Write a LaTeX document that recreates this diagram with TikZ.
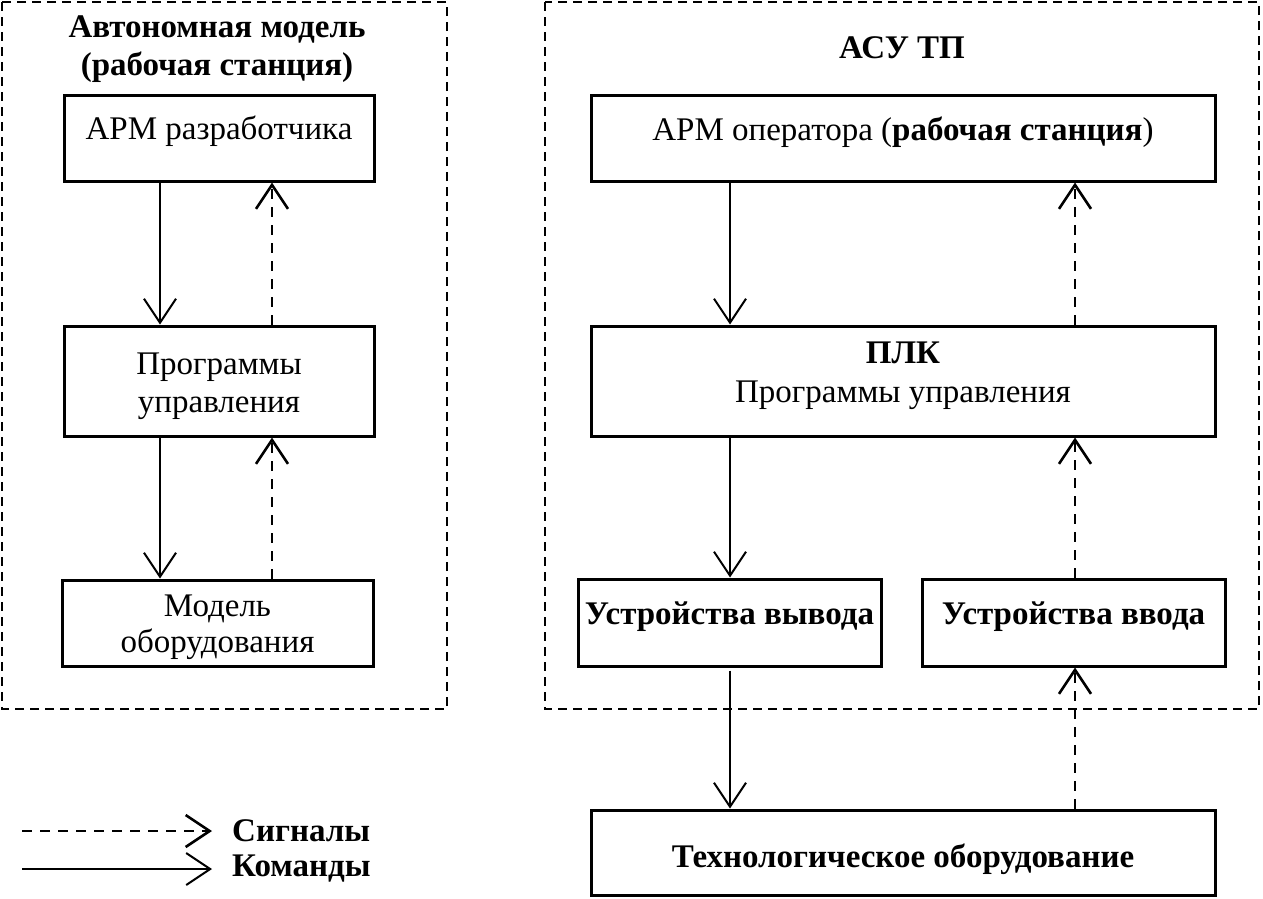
\documentclass[tikz,border=0pt]{standalone}
\usepackage{fontspec}
\setmainfont{Liberation Serif}
\usetikzlibrary{arrows.meta}
\begin{document}
\begin{tikzpicture}[x=1pt,y=-1pt,
 box/.style={draw,line width=3pt,inner sep=0pt},
 txt/.style={inner sep=0pt,anchor=base,font=\fontsize{33}{40}\selectfont},
 btxt/.style={txt,font=\fontsize{33}{40}\selectfont\bfseries},
 grp/.style={draw,line width=2.5pt,dash pattern=on 9pt off 6pt},
 cmd/.style={line width=2pt,-{Straight Barb[length=24pt,width=32pt,line width=2pt]}},
 sig/.style={line width=2.6pt,dash pattern=on 10pt off 8pt,-{Straight Barb[length=24pt,width=32pt,line width=2.6pt]}}]
\useasboundingbox (0,0) rectangle (1263,898);
% groups
\draw[grp] (2,2) rectangle (447,709);
\draw[grp] (545,2) rectangle (1259,709);
\node[btxt] (tl1) at (217,37) {Автономная модель};
\node[btxt] (tl2) at (217,75) {(рабочая станция)};
\node[btxt] (tr) at (902,58) {АСУ ТП};
% left boxes
\node[box,minimum width=310pt,minimum height=86pt] (b1) at (219,138) {};
\node[box,minimum width=310pt,minimum height=110pt] (b2) at (219,381) {};
\node[box,minimum width=311pt,minimum height=86pt] (b3) at (217.5,623) {};
\node[txt] (b1t) at (219,139) {АРМ разработчика};
\node[txt] (b2t1) at (219,374) {Программы};
\node[txt] (b2t2) at (219,412) {управления};
\node[txt] (b3t1) at (217.5,616) {Модель};
\node[txt] (b3t2) at (217.5,652) {оборудования};
% right boxes
\node[box,minimum width=624pt,minimum height=86pt] (r1) at (903,138) {};
\node[box,minimum width=624pt,minimum height=110pt] (r2) at (903,381) {};
\node[box,minimum width=303pt,minimum height=87pt] (r3) at (729.5,622.5) {};
\node[box,minimum width=303pt,minimum height=87pt] (r4) at (1073.5,622.5) {};
\node[box,minimum width=624pt,minimum height=85pt] (r5) at (903,852.5) {};
\node[txt] (r1t) at (903,140) {АРМ оператора (\textbf{рабочая станция})};
\node[btxt] (r2t1) at (903,363) {ПЛК};
\node[txt] (r2t2) at (903,402) {Программы управления};
\node[btxt] (r3t) at (729.5,624) {Устройства вывода};
\node[btxt] (r4t) at (1073.5,624) {Устройства ввода};
\node[btxt] (r5t) at (903,867) {Технологическое оборудование};
% arrow columns
\coordinate (lc) at (160,0);
\coordinate (ls) at (272,0);
\coordinate (rc) at (730,0);
\coordinate (rs) at (1075,0);
\draw[cmd] (b1.south -| lc) -- (b2.north -| lc);
\draw[sig] (b2.north -| ls) -- (b1.south -| ls);
\draw[cmd] (b2.south -| lc) -- (b3.north -| lc);
\draw[sig] (b3.north -| ls) -- (b2.south -| ls);
\draw[cmd] (r1.south -| rc) -- (r2.north -| rc);
\draw[sig] (r2.north -| rs) -- (r1.south -| rs);
\draw[cmd] (r2.south -| rc) -- (r3.north -| rc);
\draw[sig] (r3.north -| rs) -- (r2.south -| rs);
\draw[cmd] ([yshift=-3pt]r3.south -| rc) -- (r5.north -| rc);
\draw[sig] (r5.north -| rs) -- (r4.south -| rs);
% legend
\coordinate (lg1) at (22,831);
\coordinate (lg2) at (212,831);
\coordinate (lg3) at (22,869);
\coordinate (lg4) at (212,869);
\node[btxt,anchor=west] (lsig) at (232,831) {Сигналы};
\node[btxt,anchor=west] (lcmd) at (232,869) {Команды};
\draw[sig,line width=2pt] (lg1) -- (lg2);
\draw[cmd] (lg3) -- (lg4);
\end{tikzpicture}
\end{document}
